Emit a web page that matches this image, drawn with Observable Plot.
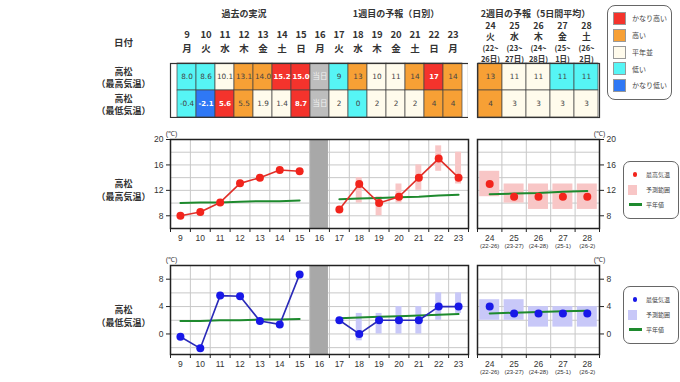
<!DOCTYPE html>
<html><head><meta charset="utf-8">
<script src="https://cdn.jsdelivr.net/npm/d3@7"></script>
<script src="https://cdn.jsdelivr.net/npm/@observablehq/plot@0.6"></script>
<style>
body{margin:0;background:#fff;}
#root{position:relative;width:680px;height:382px;overflow:hidden;background:#fff;font-family:"Noto Sans CJK JP",sans-serif;color:#333;}
.lg{position:absolute;border:1px solid #666;border-radius:8px;background:#fff;box-sizing:border-box;}
.lt{position:absolute;white-space:nowrap;line-height:1;transform:translateY(-50%);color:#444;}
.sw{position:absolute;box-sizing:border-box;}
</style></head><body><div id="root"></div>
<script>
// ---------- data ----------
const days1 = [9,10,11,12,13,14,15,16,17,18,19,20,21,22,23];
const dow1 = ["月","火","水","木","金","土","日","月","火","水","木","金","土","日","月"];
const days2 = [24,25,26,27,28];
const dow2 = ["火","水","木","金","土"];
const periodStart = [22,23,24,25,26];
const periodEnd = [26,27,28,1,2];
const todayDays = [16];

const obsDays = [9,10,11,12,13,14,15];
const obsMax = [8.0,8.6,10.1,13.1,14.0,15.2,15.0];
const obsMin = [-0.4,-2.1,5.6,5.5,1.9,1.4,8.7];

const fcDays = [17,18,19,20,21,22,23];
const fcMax = [9,13,10,11,14,17,14];
const fcMaxLo = [null,10,8,10,12,15,13];
const fcMaxHi = [null,14,11,13,16,19,18];
const fcMin = [2,0,2,2,2,4,4];
const fcMinLo = [null,-1,0,0,0,2,3];
const fcMinHi = [null,3,3,4,4,6,6];

const w2Max = [13,11,11,11,11];
const w2MaxLo = [11,10,9,9,9];
const w2MaxHi = [15,13,13,13,13];
const w2Min = [4,3,3,3,3];
const w2MinLo = [2,2,1,1,1];
const w2MinHi = [5,5,4,4,4];

const normMaxObs = [10.0,10.1,10.1,10.2,10.3,10.3,10.4];
const normMaxFc = [10.6,10.7,10.8,10.9,11.0,11.2,11.3];
const normMaxW2 = [11.4,11.5,11.6,11.8,11.9];
const normMinObs = [1.9,1.9,2.0,2.0,2.1,2.1,2.2];
const normMinFc = [2.3,2.4,2.5,2.6,2.7,2.8,2.9];
const normMinW2 = [3.0,3.1,3.2,3.3,3.4];

const levels = ["かなり高い","高い","平年並","低い","かなり低い","当日"];
const levelColors = ["#f4332c","#f7a035","#fffbec","#56f5f5","#2f78f5","#bdbdbd"];
const clsMax1 = ["低い","低い","平年並","高い","高い","かなり高い","かなり高い","当日","低い","高い","平年並","平年並","高い","かなり高い","高い"];
const clsMin1 = ["低い","かなり低い","かなり高い","高い","平年並","平年並","かなり高い","当日","平年並","低い","平年並","平年並","平年並","高い","高い"];
const clsMax2 = ["高い","平年並","平年並","低い","低い"];
const clsMin2 = ["高い","平年並","平年並","平年並","平年並"];

// ---------- helpers ----------
const root = document.getElementById("root");
function place(el, left, top){ el.style.position="absolute"; el.style.left=left+"px"; el.style.top=top+"px"; root.appendChild(el); }
const JP = "Noto Sans CJK JP";
const NUM = "DejaVu Sans";
const AX = "Liberation Sans";

function label1(d, row){
  const oi = obsDays.indexOf(d), fi = fcDays.indexOf(d);
  if (oi >= 0) return (row==="max"?obsMax:obsMin)[oi].toFixed(1);
  if (fi >= 0) return String((row==="max"?fcMax:fcMin)[fi]);
  return "当日";
}
const rows1 = days1.flatMap((d,i)=>[
  {day:d,row:"max",cls:clsMax1[i],label:label1(d,"max")},
  {day:d,row:"min",cls:clsMin1[i],label:label1(d,"min")}]);
const rows2 = days2.flatMap((d,i)=>[
  {day:d,row:"max",cls:clsMax2[i],label:String(w2Max[i])},
  {day:d,row:"min",cls:clsMin2[i],label:String(w2Min[i])}]);
const strong = c => c==="かなり高い"||c==="かなり低い";

function cellMarks(rows){
  return [
    Plot.cell(rows,{x:"day",y:"row",fill:"cls",stroke:"#444",strokeWidth:0.7,inset:0}),
    Plot.text(rows.filter(r=>!strong(r.cls)&&r.cls!=="当日"),{x:"day",y:"row",text:"label",fill:"#444",fontSize:7.3,fontFamily:NUM}),
    Plot.text(rows.filter(r=>strong(r.cls)),{x:"day",y:"row",text:"label",fill:"#fff",fontWeight:"bold",fontSize:6.9,fontFamily:NUM}),
    Plot.text(rows.filter(r=>r.cls==="当日"),{x:"day",y:"row",text:"label",fill:"#f2f2f2",fontSize:7.5,fontFamily:JP}),
    Plot.frame({stroke:"#333",strokeWidth:1.2})
  ];
}

// ---------- table: days 9-23 ----------
const tableA = Plot.plot({
  width:468,height:118,marginLeft:170,marginRight:0,marginTop:63,marginBottom:1,
  x:{type:"band",domain:days1,padding:0,axis:null},
  y:{type:"band",domain:["max","min"],padding:0,axis:null},
  color:{domain:levels,range:levelColors},
  style:{background:"transparent",fontFamily:JP,color:"#333"},
  marks:[
    ...cellMarks(rows1),
    Plot.text(days1,{x:d=>d,text:d=>String(d),frameAnchor:"top",dy:-32,fontWeight:"bold",fontSize:9.5,fontFamily:JP,fill:"#333"}),
    Plot.text(days1,{x:d=>d,text:(d,i)=>dow1[i],frameAnchor:"top",dy:-18,fontWeight:"bold",fontSize:9.5,fontFamily:JP,fill:"#333"}),
    Plot.text(["過去の実況"],{x:()=>12,text:d=>d,frameAnchor:"top",dy:-53,fontWeight:"bold",fontSize:9,fill:"#333"}),
    Plot.text(["1週目の予報（日別）"],{x:()=>20,text:d=>d,frameAnchor:"top",dy:-53,fontWeight:"bold",fontSize:9,fill:"#333"}),
    Plot.text(["日付"],{text:d=>d,frameAnchor:"top-left",dx:-47,dy:-24,textAnchor:"middle",fontWeight:"bold",fontSize:9.5,fill:"#333"}),
    Plot.text(["max","min"],{y:d=>d,text:d=>d==="max"?"高松\n（最高気温）":"高松\n（最低気温）",frameAnchor:"left",dx:-47,textAnchor:"middle",fontWeight:"bold",fontSize:9,lineHeight:1.4,fill:"#333"})
  ]
});
place(tableA,0,0);

// ---------- table: week 2 ----------
const tableB = Plot.plot({
  width:123,height:118,marginLeft:0,marginRight:1,marginTop:63,marginBottom:1,
  x:{type:"band",domain:days2,padding:0,axis:null},
  y:{type:"band",domain:["max","min"],padding:0,axis:null},
  color:{domain:levels,range:levelColors},
  style:{background:"transparent",fontFamily:JP,color:"#333",overflow:"visible"},
  marks:[
    ...cellMarks(rows2),
    Plot.text(days2,{x:d=>d,text:d=>String(d),frameAnchor:"top",dy:-41,fontWeight:"bold",fontSize:8.8,fill:"#333"}),
    Plot.text(days2,{x:d=>d,text:(d,i)=>dow2[i],frameAnchor:"top",dy:-29.5,fontWeight:"bold",fontSize:8.8,fill:"#333"}),
    Plot.text(days2,{x:d=>d,text:(d,i)=>`(${periodStart[i]}~`,frameAnchor:"top",dy:-17.5,fontWeight:"bold",fontSize:7.5,fill:"#333"}),
    Plot.text(days2,{x:d=>d,text:(d,i)=>`${periodEnd[i]}日)`,frameAnchor:"top",dy:-6.5,fontWeight:"bold",fontSize:7.5,fill:"#333"}),
    Plot.text(["2週目の予報（5日間平均）"],{x:()=>26,text:d=>d,frameAnchor:"top",dy:-53,dx:-3,fontWeight:"bold",fontSize:9,fill:"#333"})
  ]
});
place(tableB,477,0);

// ---------- charts ----------
const halfTicks = arr => arr.map(d=>d-0.5).concat([arr[arr.length-1]+0.5]);
const GRID = "#c8c8c8";

function dailyChart({top,marginTop,height,yDomain,yTicks,gridTicks,obs,normObs,fc,normFc,lo,hi,lineColor,dotColor,rangeColor,label,labelDy}){
  const obsData = obsDays.map((d,i)=>({day:d,v:obs[i]}));
  const fcData = fcDays.map((d,i)=>({day:d,v:fc[i],lo:lo[i],hi:hi[i]}));
  const nObs = obsDays.map((d,i)=>({day:d,v:normObs[i]}));
  const nFc = fcDays.map((d,i)=>({day:d,v:normFc[i]}));
  const p = Plot.plot({
    width:470,height,marginLeft:170,marginRight:2,marginTop,marginBottom:height-marginTop-89,
    x:{domain:[days1[0]-0.5,days1[days1.length-1]+0.5],label:null},
    y:{domain:yDomain,label:null},
    style:{background:"transparent",fontFamily:AX,fontSize:"8.5px",color:"#333",overflow:"visible"},
    marks:[
      Plot.gridX({ticks:halfTicks(days1),stroke:GRID,strokeOpacity:1}),
      Plot.gridY({ticks:gridTicks,stroke:GRID,strokeOpacity:1}),
      Plot.rect(todayDays,{x1:d=>d-0.45,x2:d=>d+0.45,fill:"#a8a8a8"}),
      Plot.rect(fcData.filter(d=>d.lo!=null),{x1:d=>d.day-0.15,x2:d=>d.day+0.15,y1:"lo",y2:"hi",fill:rangeColor}),
      Plot.line(nObs,{x:"day",y:"v",stroke:"#1e8a2e",strokeWidth:2}),
      Plot.line(nFc,{x:"day",y:"v",stroke:"#1e8a2e",strokeWidth:2}),
      Plot.line(obsData,{x:"day",y:"v",stroke:lineColor,strokeWidth:1.6}),
      Plot.line(fcData,{x:"day",y:"v",stroke:lineColor,strokeWidth:1.6}),
      Plot.dot(obsData,{x:"day",y:"v",r:4,fill:dotColor}),
      Plot.dot(fcData,{x:"day",y:"v",r:4,fill:dotColor}),
      Plot.frame({stroke:"#222",strokeWidth:1.5}),
      Plot.axisY({ticks:yTicks,tickSize:4,tickPadding:3,stroke:"#222",label:null}),
      Plot.axisX({ticks:halfTicks(days1),tickSize:4,tickFormat:()=>"",stroke:"#222",label:null}),
      Plot.axisX({ticks:days1,tickSize:0,tickPadding:6,tickFormat:d=>String(d),label:null}),
      Plot.text(["(℃)"],{text:d=>d,frameAnchor:"top-left",dy:-8,dx:1,textAnchor:"middle",fontSize:7,fill:"#333"}),
      Plot.text([label],{text:d=>d,frameAnchor:"left",dx:-47,dy:labelDy,textAnchor:"middle",fontWeight:"bold",fontSize:9,lineHeight:1.5,fontFamily:JP,fill:"#333"})
    ]
  });
  place(p,0,top);
}

function weekChart({top,marginTop,height,yDomain,yTicks,gridTicks,v,lo,hi,norm,dotColor,rangeColor}){
  const data = days2.map((d,i)=>({day:d,v:v[i],lo:lo[i],hi:hi[i]}));
  const nData = days2.map((d,i)=>({day:d,v:norm[i]}));
  const p = Plot.plot({
    width:153,height,marginLeft:1,marginRight:30,marginTop,marginBottom:height-marginTop-89,
    x:{domain:[days2[0]-0.5,days2[days2.length-1]+0.5],label:null},
    y:{domain:yDomain,label:null},
    style:{background:"transparent",fontFamily:AX,fontSize:"8.5px",color:"#333",overflow:"visible"},
    marks:[
      Plot.gridX({ticks:halfTicks(days2),stroke:GRID,strokeOpacity:1}),
      Plot.gridY({ticks:gridTicks,stroke:GRID,strokeOpacity:1}),
      Plot.rect(data,{x1:d=>d.day-0.41,x2:d=>d.day+0.41,y1:"lo",y2:"hi",fill:rangeColor}),
      Plot.line(nData,{x:"day",y:"v",stroke:"#1e8a2e",strokeWidth:2}),
      Plot.dot(data,{x:"day",y:"v",r:4,fill:dotColor}),
      Plot.frame({stroke:"#222",strokeWidth:1.5}),
      Plot.axisY({anchor:"right",ticks:yTicks,tickSize:4,tickPadding:3,stroke:"#222",label:null}),
      Plot.axisX({ticks:halfTicks(days2),tickSize:4,tickFormat:()=>"",stroke:"#222",label:null}),
      Plot.axisX({ticks:days2,tickSize:0,tickPadding:6,tickFormat:d=>String(d),label:null}),
      Plot.text(days2,{x:d=>d,text:(d,i)=>`(${periodStart[i]}-${periodEnd[i]})`,frameAnchor:"bottom",dy:19,fontSize:6,fill:"#333"}),
      Plot.text(["(℃)"],{text:d=>d,frameAnchor:"top-right",dy:-8,textAnchor:"middle",fontSize:7,fill:"#333"})
    ]
  });
  place(p,476,top);
}

dailyChart({top:120,marginTop:19,height:130,yDomain:[6,20],yTicks:[8,12,16,20],gridTicks:[6,8,10,12,14,16,18,20],
  obs:obsMax,normObs:normMaxObs,fc:fcMax,normFc:normMaxFc,lo:fcMaxLo,hi:fcMaxHi,
  lineColor:"#e0302a",dotColor:"#f2241c",rangeColor:"#f8c6c6",label:"高松\n（最高気温）",labelDy:5});
weekChart({top:120,marginTop:19,height:130,yDomain:[6,20],yTicks:[8,12,16,20],gridTicks:[6,8,10,12,14,16,18,20],
  v:w2Max,lo:w2MaxLo,hi:w2MaxHi,norm:normMaxW2,dotColor:"#f2241c",rangeColor:"#f8c6c6"});
dailyChart({top:250,marginTop:15,height:126,yDomain:[-3,10],yTicks:[0,4,8],gridTicks:[-2,0,2,4,6,8,10],
  obs:obsMin,normObs:normMinObs,fc:fcMin,normFc:normMinFc,lo:fcMinLo,hi:fcMinHi,
  lineColor:"#2a2ab8",dotColor:"#1818e8",rangeColor:"#c8c8f8",label:"高松\n（最低気温）",labelDy:5});
weekChart({top:250,marginTop:15,height:126,yDomain:[-3,10],yTicks:[0,4,8],gridTicks:[-2,0,2,4,6,8,10],
  v:w2Min,lo:w2MinLo,hi:w2MinHi,norm:normMinW2,dotColor:"#1818e8",rangeColor:"#c8c8f8"});

// ---------- legends (HTML) ----------
function box(l,t,w,h,r){const b=document.createElement("div");b.className="lg";Object.assign(b.style,{left:l+"px",top:t+"px",width:w+"px",height:h+"px",borderRadius:r+"px"});root.appendChild(b);}
function txt(s,l,cy,fs){const e=document.createElement("div");e.className="lt";e.textContent=s;Object.assign(e.style,{left:l+"px",top:cy+"px",fontSize:fs+"px"});root.appendChild(e);}
function sw(l,t,w,h,css){const e=document.createElement("div");e.className="sw";Object.assign(e.style,{left:l+"px",top:t+"px",width:w+"px",height:h+"px"},css);root.appendChild(e);}

box(607,5,65,95,8);
const legendYs=[18,35,52,68.5,85];
levels.slice(0,5).forEach((lv,i)=>{
  sw(613,legendYs[i]-6.5,13,13,{background:levelColors[i],border:"0.6px solid #999"});
  txt(lv,632,legendYs[i],7);
});

function chartLegend(top,dotColor,rangeColor,name){
  box(623,top,56,58,7);
  sw(632.5,top+13.5-2.3,4.6,4.6,{background:dotColor,borderRadius:"50%"});
  txt(name,646,top+13.5,6);
  sw(628,top+28.5-5,9,10,{background:rangeColor});
  txt("予測範囲",646,top+28.5,6);
  sw(629,top+43.5-1.2,13,2.5,{background:"#1e8a2e"});
  txt("平年値",646,top+43.5,6);
}
chartLegend(161,"#f2241c","#f8c6c6","最高気温");
chartLegend(286,"#1818e8","#c8c8f8","最低気温");
</script></body></html>
